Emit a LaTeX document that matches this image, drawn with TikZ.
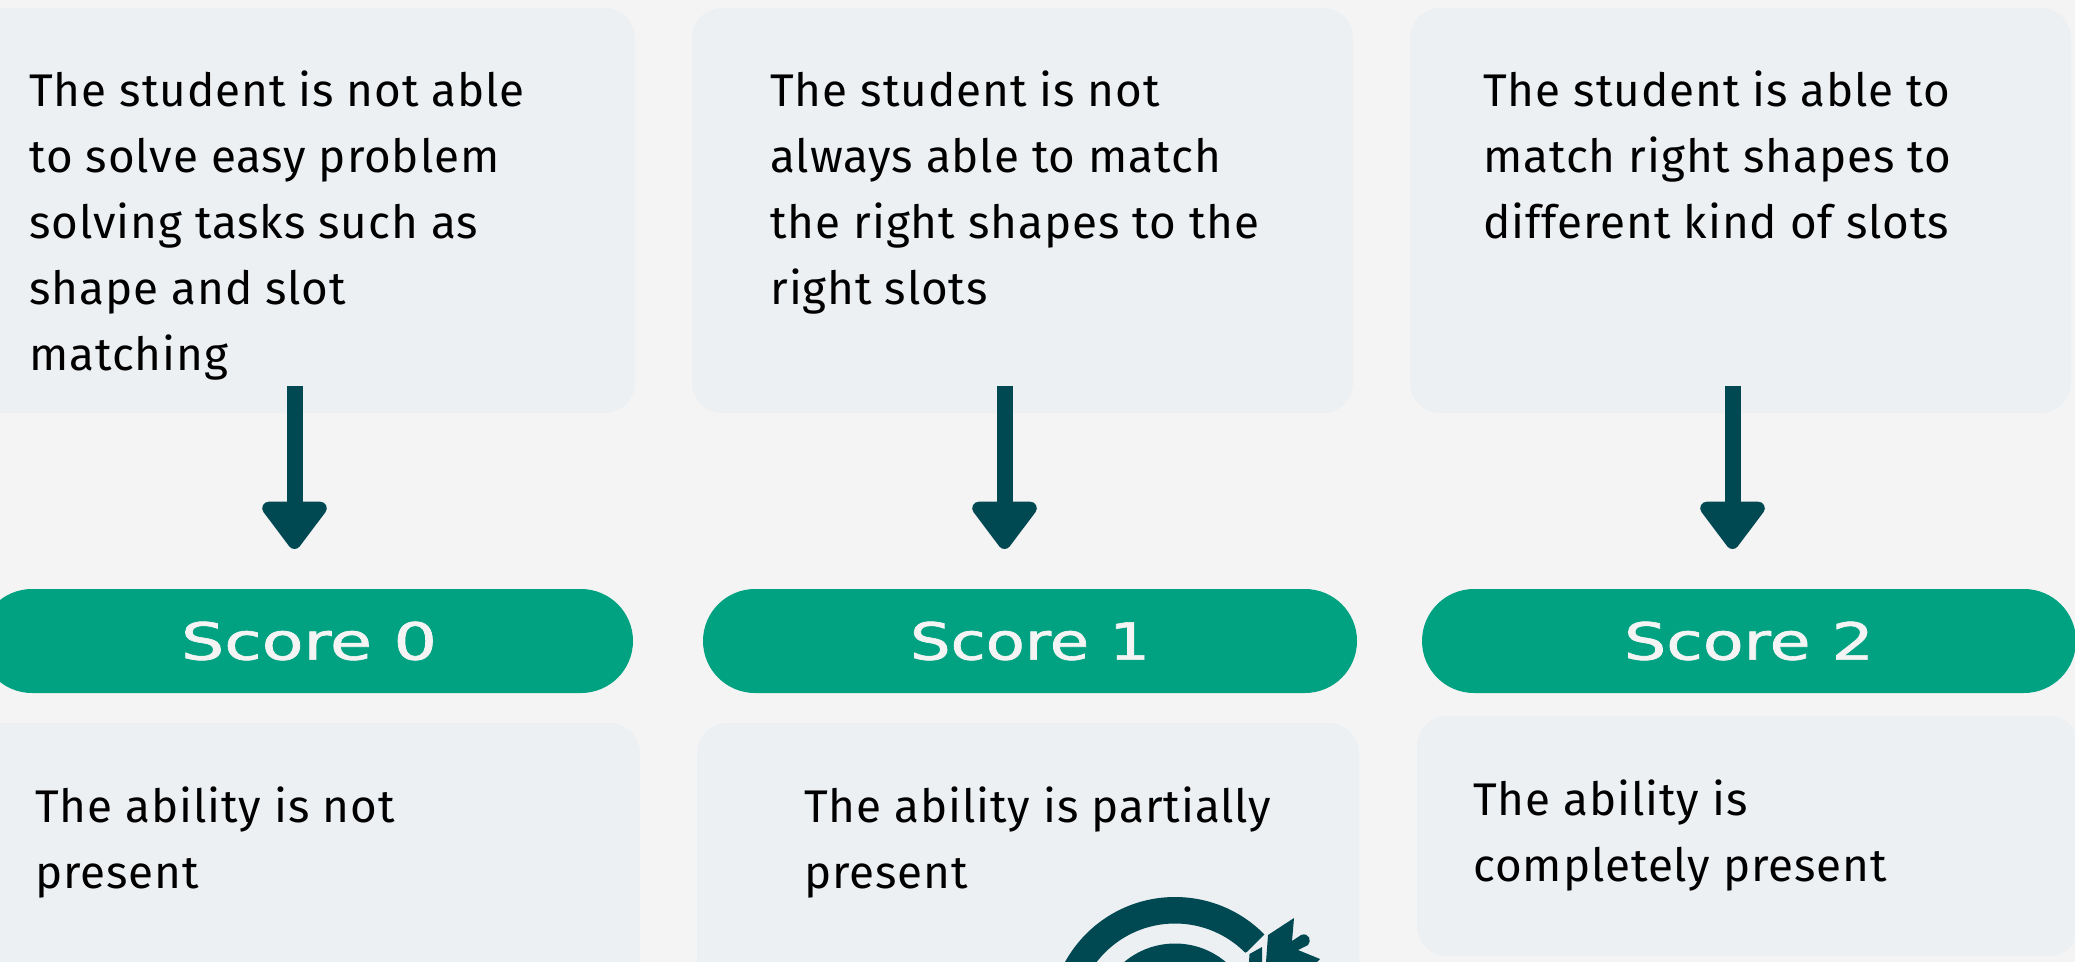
\documentclass[tikz,border=0pt]{standalone}
\usepackage{fontspec}
\usepackage{graphicx}
\setmainfont[LetterSpace=2.0]{Fira Sans}
\newfontfamily\scorefont[FakeBold=1.2]{DejaVu Sans}
\usetikzlibrary{arrows.meta}
\definecolor{pagebg}{HTML}{F4F4F4}
\definecolor{boxbg}{HTML}{EDF0F3}
\definecolor{pillgreen}{HTML}{00A281}
\definecolor{darkteal}{HTML}{004852}
\newcommand{\scoretxt}[2]{\resizebox{#1pt}{19pt}{\scorefont #2}}
\tikzset{
  x=0.5pt,y=-0.5pt,
  panel/.style={fill=boxbg,rounded corners=15pt,inner sep=0pt,draw=none},
  pill/.style={fill=pillgreen,rounded corners=26pt,inner sep=0pt,draw=none,text=pagebg},
  body/.style={anchor=north west,inner sep=0pt,align=left,text=black,font=\fontsize{22.9}{33}\selectfont},
  flow/.style={draw=darkteal,line width=8pt,-{Triangle[width=37pt,length=26pt,round,line width=7pt,fill=darkteal]}},
}
\begin{document}
\begin{tikzpicture}
\useasboundingbox (0,0) rectangle (2075,962);
\clip (0,0) rectangle (2075,962);
\fill[pagebg] (0,0) rectangle (2075,962);

% upper panels
\node[panel,minimum width=335pt,minimum height=202.5pt] (p0) at (300,210.5) {};
\node[panel,minimum width=330.5pt,minimum height=202.5pt] (p1) at (1022.5,210.5) {};
\node[panel,minimum width=330.5pt,minimum height=202.5pt] (p2) at (1740.5,210.5) {};

% lower panels
\node[panel,minimum width=340pt,minimum height=200pt] (q0) at (300,923) {};
\node[panel,minimum width=331pt,minimum height=200pt] (q1) at (1028,923) {};
\node[panel,minimum width=331pt,minimum height=120pt] (q2) at (1748,836) {};

% score pills
\node[pill,minimum width=326.5pt,minimum height=52pt] (s0) at (306.5,641) {\hspace*{2.5pt}\scoretxt{128}{Score 0}};
\node[pill,minimum width=327pt,minimum height=52pt] (s1) at (1030,641) {\scoretxt{120}{Score 1}};
\node[pill,minimum width=327pt,minimum height=52pt] (s2) at (1749,641) {\scoretxt{125}{Score 2}};

% texts
\node[body] (t0) at (29,70) {The student is not able\\to solve easy problem\\solving tasks such as\\shape and slot\\matching};
\node[body] (t1) at (770,70) {The student is not\\always able to match\\the right shapes to the\\right slots};
\node[body] (t2) at (1483,70) {The student is able to\\match right shapes to\\different kind of slots};
\node[body] (u0) at (35,786) {The ability is not\\present};
\node[body] (u1) at (804,786) {The ability is partially\\present};
\node[body] (u2) at (1473,779) {The ability is\\completely present};

% connectors
\coordinate (a0) at (294.5,386); \coordinate (b0) at (294.5,549);
\coordinate (a1) at (1004.5,386); \coordinate (b1) at (1004.5,549);
\coordinate (a2) at (1732.5,386); \coordinate (b2) at (1732.5,549);
\draw[flow] (a0) -- (b0);
\draw[flow] (a1) -- (b1);
\draw[flow] (a2) -- (b2);

% target icon (cut by the lower edge)
\coordinate (c) at (1175,1022.5);
\fill[darkteal,even odd rule] (c) circle[radius=125.5] (c) circle[radius=99];
\fill[darkteal] (c) circle[radius=79];
% gap cut out of the ring around the arrow
\fill[boxbg] (1247,952) -- (1265,934) -- (1340,890) -- (1340,962) -- (1225,962) -- cycle;
% arrow fletching
\fill[darkteal] (1268,935) -- (1294,918) -- (1292,941) -- (1301,935)
  .. controls (1309,932) and (1312,941) .. (1308,945) -- (1298,950) -- (1320,959) -- (1317,962) -- (1266,962) -- cycle;
\fill[darkteal] (1249,962) -- (1249.5,954) -- (1262,947) -- (1262,962) -- cycle;
\end{tikzpicture}
\end{document}
